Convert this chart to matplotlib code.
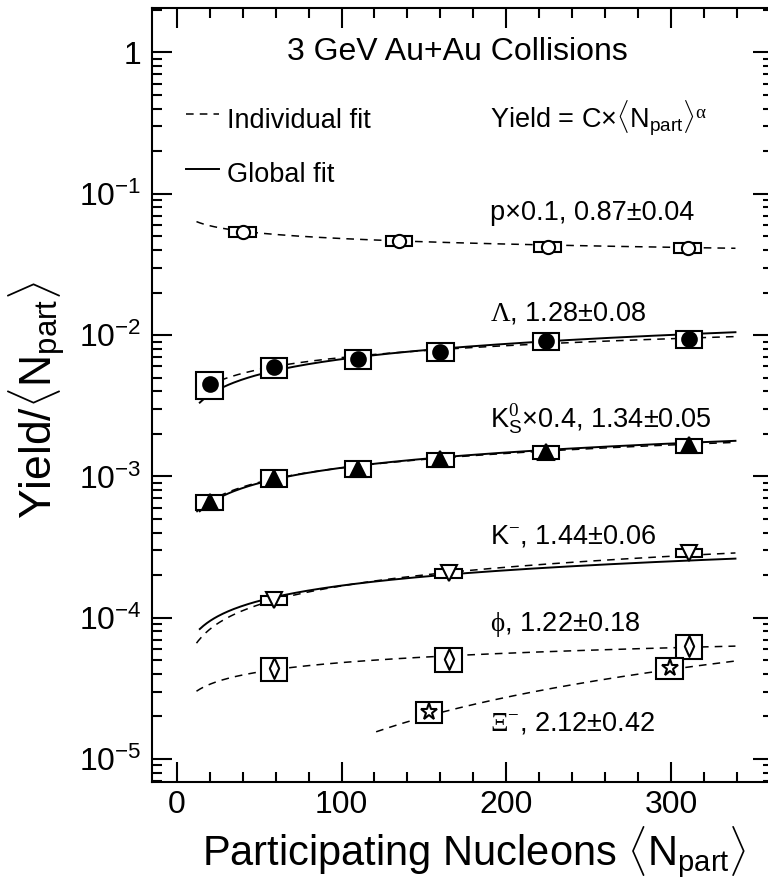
import numpy as np
import matplotlib
matplotlib.use('Agg')
import matplotlib.pyplot as plt
from matplotlib.patches import Rectangle
from matplotlib.path import Path
from matplotlib.lines import Line2D
from matplotlib.ticker import LogLocator, MultipleLocator, NullFormatter, FuncFormatter

plt.rcParams['font.family'] = ['Liberation Sans', 'DejaVu Sans']
plt.rcParams['mathtext.fontset'] = 'custom'
plt.rcParams['mathtext.rm'] = 'Liberation Serif'
plt.rcParams['mathtext.it'] = 'Liberation Serif'
plt.rcParams['mathtext.sf'] = 'Liberation Sans'
plt.rcParams['mathtext.bf'] = 'Liberation Serif:bold'

# yield / <Npart> per species (already multiplied by the quoted scale factor)
npart_p = [40, 135, 225, 310]
yield_p = [0.0537, 0.0463, 0.0420, 0.0413]
sys_p = [0.08, 0.08, 0.08, 0.08]

npart_lam = [20, 59, 110, 160, 224, 311]
yield_lam = [4.49e-3, 5.92e-3, 6.78e-3, 7.63e-3, 9.08e-3, 9.38e-3]
sys_lam = [0.22, 0.163, 0.157, 0.144, 0.141, 0.13]

npart_k0 = [20, 59, 110, 160, 224, 311]
yield_k0 = [6.59e-4, 9.70e-4, 1.13e-3, 1.318e-3, 1.48e-3, 1.66e-3]
sys_k0 = [0.122, 0.136, 0.128, 0.117, 0.108, 0.114]

npart_km = [59, 165, 311]
yield_km = [1.33e-4, 2.06e-4, 2.87e-4]
sys_km = [0.075, 0.075, 0.07]

npart_phi = [59, 165, 311]
yield_phi = [4.39e-5, 5.10e-5, 6.33e-5]
sys_phi = [0.19, 0.19, 0.19]

npart_xi = [153, 299]
yield_xi = [2.16e-5, 4.43e-5]
sys_xi = [0.174, 0.174]

# power-law fits: value at <Npart> = 100 and exponent alpha
alpha_ind = {'p': 0.87, 'lam': 1.28, 'k0': 1.34, 'km': 1.44, 'phi': 1.22, 'xi': 2.12}
norm_ind = {'p': 0.0482, 'lam': 6.93e-3, 'k0': 1.149e-3, 'km': 1.678e-4, 'phi': 4.81e-5, 'xi': 1.258e-5}
start_ind = {'p': 12, 'lam': 12, 'k0': 12, 'km': 12, 'phi': 12, 'xi': 121}
alpha_glob = 1.36
norm_glob = {'lam': 6.75e-3, 'k0': 1.15e-3, 'km': 1.687e-4}
fit_end = 339

labels = {
    'p': 'p×0.1, 0.87±0.04',
    'lam': r'$\Lambda$, 1.28±0.08',
    'k0': r'K$^{0}_{\mathsf{S}}$×0.4, 1.34±0.05',
    'km': r'K$^{-}$, 1.44±0.06',
    'phi': r'$\phi$, 1.22±0.18',
    'xi': r'$\Xi^{-}$, 2.12±0.42',
}
label_y = {'p': 0.0653, 'lam': 0.01259, 'k0': 2.21e-3, 'km': 3.36e-4, 'phi': 8.09e-5, 'xi': 1.585e-5}
label_x = 190

thin_diamond = Path([(0, 1), (0.45, 0), (0, -1), (-0.45, 0), (0, 1)],
                    [Path.MOVETO, Path.LINETO, Path.LINETO, Path.LINETO, Path.CLOSEPOLY])

fig = plt.figure(figsize=(7.68, 8.91), dpi=100)
ax = fig.add_axes([0.1979, 0.1223, 0.808, 0.8683])
ax.set_yscale('log')
ax.set_xlim(-15, 361.5)
ax.set_ylim(6.87e-6, 2.05)


def power_law(n, norm, alpha):
    return norm * (n / 100.0) ** (alpha - 1)


# individual fits (dashed) and global fits (solid)
for key in alpha_ind:
    n = np.linspace(start_ind[key], fit_end, 300)
    ax.plot(n, power_law(n, norm_ind[key], alpha_ind[key]), color='black',
            lw=1.1, dashes=(5, 4), zorder=2)
for key in norm_glob:
    n = np.linspace(14, fit_end, 300)
    ax.plot(n, power_law(n, norm_glob[key], alpha_glob), color='black',
            lw=1.4, zorder=2)

series = [
    (npart_p, yield_p, sys_p, dict(marker='o', ms=9.5, mfc='white')),
    (npart_lam, yield_lam, sys_lam, dict(marker='o', ms=10.5, mfc='black')),
    (npart_k0, yield_k0, sys_k0, dict(marker='^', ms=11, mfc='black')),
    (npart_km, yield_km, sys_km, dict(marker='v', ms=11, mfc='white')),
    (npart_phi, yield_phi, sys_phi, dict(marker=thin_diamond, ms=15, mfc='none')),
    (npart_xi, yield_xi, sys_xi, dict(marker='*', ms=12.5, mfc='none')),
]

half_w = 8
for xs, ys, ss, style in series:
    for x, y, s in zip(xs, ys, ss):
        ax.add_patch(Rectangle((x - half_w, y * (1 - s)), 2 * half_w, 2 * y * s,
                               facecolor='white', edgecolor='black', lw=1.5, zorder=3))
    ax.plot(xs, ys, ls='none', mec='black', mew=1.5, zorder=4, **style)

# species labels
for key, text in labels.items():
    ax.text(label_x, label_y[key], text, fontsize=19.5, va='baseline', ha='left')

ax.text(0.492, 0.933, '3 GeV Au+Au Collisions', transform=ax.transAxes,
        fontsize=23, ha='center', va='baseline')
ax.text(label_x, 0.2906, r'Yield = C×$\langle\mathsf{N}_{\mathsf{part}}\rangle^{\alpha}$',
        fontsize=19.5, va='baseline', ha='left')

# legend
ax.add_line(Line2D([0.0545, 0.1084], [0.8634, 0.8634], transform=ax.transAxes,
                   color='black', lw=1.1, dashes=(5, 4)))
ax.add_line(Line2D([0.0545, 0.1084], [0.7919, 0.7919], transform=ax.transAxes,
                   color='black', lw=1.4))
ax.text(0.1214, 0.845, 'Individual fit', transform=ax.transAxes, fontsize=19.5, va='baseline')
ax.text(0.1214, 0.776, 'Global fit', transform=ax.transAxes, fontsize=19.5, va='baseline')

# axes styling
ax.xaxis.set_major_locator(MultipleLocator(100))
ax.xaxis.set_minor_locator(MultipleLocator(20))
ax.yaxis.set_major_locator(LogLocator(base=10, numticks=20))
ax.yaxis.set_minor_locator(LogLocator(base=10, subs=np.arange(2, 10), numticks=20))
ax.yaxis.set_minor_formatter(NullFormatter())


def decade_label(v, pos):
    e = int(round(np.log10(v)))
    return '1' if e == 0 else r'$\mathdefault{10^{%d}}$' % e


ax.yaxis.set_major_formatter(FuncFormatter(decade_label))
ax.tick_params(which='both', direction='in', top=True, right=True, width=1.5)
ax.tick_params(which='major', length=14.4)
ax.tick_params(which='minor', length=7.5)
ax.tick_params(axis='y', which='major', labelsize=23, pad=7.5)
ax.tick_params(axis='x', which='major', labelsize=23, pad=6)
for sp in ax.spines.values():
    sp.set_linewidth(1.5)

ax.set_xlabel(r'Participating Nucleons $\langle\mathsf{N}_{\mathsf{part}}\rangle$', fontsize=30)
ax.xaxis.label.set_ha('right')
ax.xaxis.label.set_va('baseline')
ax.xaxis.set_label_coords(0.958, -0.1086)
ax.set_ylabel(r'Yield/$\langle\mathsf{N}_{\mathsf{part}}\rangle$', fontsize=32)
ax.yaxis.set_label_coords(-0.135, 0.494)

fig.savefig('out.png', dpi=100)
